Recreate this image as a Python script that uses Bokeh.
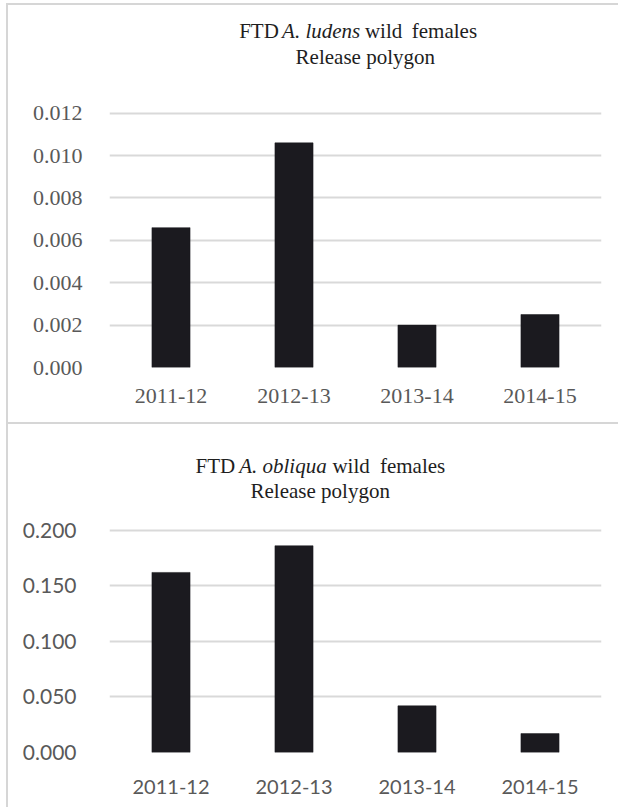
from bokeh.plotting import figure
from bokeh.models import NumeralTickFormatter, Range1d, ColumnDataSource
from bokeh.layouts import column
from bokeh.embed import file_html
from bokeh.resources import INLINE
from bokeh.core.properties import value

# ---- data ----
seasons = ["2011-12", "2012-13", "2013-14", "2014-15"]
ludens_ftd = [0.0066, 0.0106, 0.0020, 0.0025]
obliqua_ftd = [0.162, 0.186, 0.042, 0.017]

ludens_ticks = [0.000, 0.002, 0.004, 0.006, 0.008, 0.010, 0.012]
obliqua_ticks = [0.000, 0.050, 0.100, 0.150, 0.200]

title_ludens = [("FTD", False), ("A. ludens", True), ("wild", False), ("females", False)]
title_obliqua = [("FTD", False), ("A. obliqua", True), ("wild", False), ("females", False)]
subtitle = "Release polygon"

# Times / Liberation Serif advance widths (per 1000 em)
ROMAN = {"F": 556, "T": 611, "D": 722, " ": 250, "w": 722, "i": 278, "l": 278, "d": 500,
         "f": 333, "e": 444, "m": 778, "a": 444, "s": 389, "R": 667, "p": 500, "o": 500,
         "y": 500, "g": 500, "n": 500}
ITALIC = {"A": 611, ".": 250, " ": 250, "l": 278, "u": 500, "d": 500, "e": 444, "n": 500,
          "s": 389, "o": 500, "b": 500, "i": 278, "q": 500, "a": 500}


def text_w(s, italic, size):
    table = ITALIC if italic else ROMAN
    return sum(table.get(c, 500) for c in s) / 1000.0 * size


BAR = "#1b1a1f"
GRID = "#d9d9d9"
TICK = "#595959"
TITLE = "#1e1e1e"
BORDER = "#d6d6d6"
SERIF = "Liberation Serif"
PAGE_W = 620
FIG_LEFT = 8
FIG_W = PAGE_W - FIG_LEFT
TOP_PAD = 6


def make_panel(values, ticks, fmt, title_parts, fig_top, height, frame_left, frame_right,
               frame_bottom, grid_top, tick_font, ytick_size, xtick_size, ystandoff,
               xstandoff, title_size, line1, line2):
    mbl = round(frame_left - FIG_LEFT)
    mbr = round(PAGE_W - frame_right)
    mbb = round(fig_top + height - frame_bottom)
    left_pg = FIG_LEFT + mbl
    right_pg = PAGE_W - mbr
    top_pg = fig_top + TOP_PAD
    bottom_pg = fig_top + height - mbb
    fw = right_pg - left_pg
    k = (bottom_pg - grid_top) / ticks[-1]          # pixels per data unit
    y_end = (bottom_pg - top_pg) / k

    p = figure(x_range=seasons, y_range=Range1d(ticks[0], y_end),
               width=FIG_W, height=height, output_backend="svg", toolbar_location=None,
               min_border_left=mbl, min_border_right=mbr, min_border_top=TOP_PAD,
               min_border_bottom=mbb)
    p.vbar(x=seasons, top=values, width=0.31, fill_color=BAR, line_color=BAR, line_width=0.5)

    p.outline_line_color = None
    p.xgrid.grid_line_color = None
    p.ygrid.grid_line_color = GRID
    p.ygrid.grid_line_width = 2

    p.yaxis.ticker = ticks
    p.yaxis.formatter = NumeralTickFormatter(format=fmt)
    for ax in (p.xaxis, p.yaxis):
        ax.axis_line_color = None
        ax.major_tick_line_color = None
        ax.minor_tick_line_color = None
        ax.major_label_text_color = TICK
        ax.major_label_text_font = tick_font
    p.yaxis.major_label_text_font_size = f"{ytick_size}px"
    p.xaxis.major_label_text_font_size = f"{xtick_size}px"
    p.yaxis.major_label_standoff = ystandoff
    p.xaxis.major_label_standoff = xstandoff

    def sx(px):
        return (px - left_pg) / fw * len(seasons)

    def sy(py):
        return (bottom_pg - py) / k

    # title line 1 (mixed roman / italic), centred on line1[0]
    gaps = [0.2, 0.3, 0.5]
    widths = [text_w(t, it, title_size) for t, it in title_parts]
    total = sum(widths) + sum(g * title_size for g in gaps)
    x = line1[0] - total / 2
    xs, ys, txt, sty = [], [], [], []
    for i, ((t, it), w) in enumerate(zip(title_parts, widths)):
        xs.append(sx(x))
        ys.append(sy(line1[1]))
        txt.append(t)
        sty.append("italic" if it else "normal")
        x += w + (gaps[i] * title_size if i < len(gaps) else 0)
    src = ColumnDataSource(dict(x=xs, y=ys, text=txt, style=sty))
    p.text(x="x", y="y", text="text", source=src, text_font=value(SERIF),
           text_font_size=value(f"{title_size}px"), text_font_style="style",
           text_color=TITLE, text_align="left", text_baseline="alphabetic")
    p.text(x=[sx(line2[0])], y=[sy(line2[1])], text=[subtitle], text_font=value(SERIF),
           text_font_size=value(f"{title_size}px"), text_color=TITLE,
           text_align="center", text_baseline="alphabetic")
    return p


p1 = make_panel(ludens_ftd, ludens_ticks, "0.000", title_ludens,
                fig_top=5, height=419, frame_left=99, frame_right=601, frame_bottom=367,
                grid_top=112.7, tick_font=SERIF, ytick_size=22, xtick_size=22,
                ystandoff=21, xstandoff=15, title_size=21,
                line1=(352, 30), line2=(360, 56))
p2 = make_panel(obliqua_ftd, obliqua_ticks, "0.000", title_obliqua,
                fig_top=426, height=385, frame_left=109, frame_right=604, frame_bottom=754,
                grid_top=531.7, tick_font="Lato", ytick_size=21, xtick_size=20,
                ystandoff=27, xstandoff=21, title_size=21,
                line1=(321, 467), line2=(321, 492))

for p in (p1, p2):
    p.styles = {"border-top": f"2px solid {BORDER}", "border-left": f"2px solid {BORDER}"}

layout = column(p1, p2, spacing=0, margin=(3, 0, 0, 6))
open("out.html", "w").write(file_html(layout, INLINE))
